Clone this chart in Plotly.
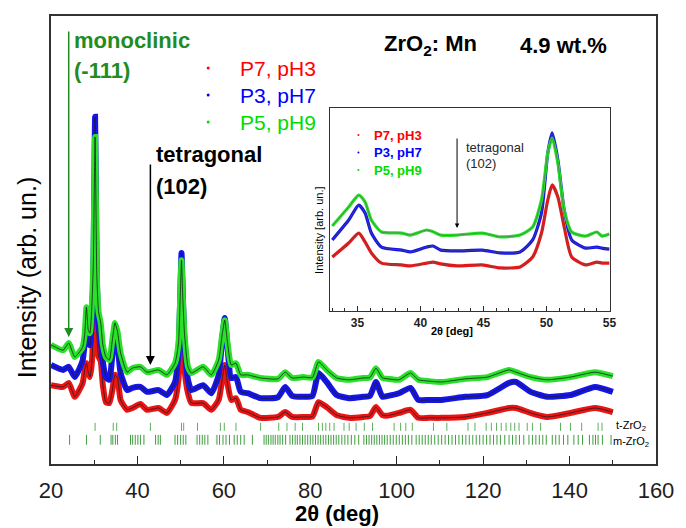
import plotly.graph_objects as go

# ---------------- data ----------------
two_theta = [20.0, 22.8, 24.1, 25.5, 27.3, 27.8, 28.2, 28.6, 29.0, 29.4, 29.8, 30.0, 30.2, 30.4, 30.6,
             31.0, 31.5, 32.0, 32.7, 33.5, 34.2, 34.8, 35.4, 36.1, 37.6, 38.8, 40.7, 42.2, 44.9, 46.8,
             48.7, 49.5, 49.9, 50.2, 50.5, 50.9, 51.7, 52.5, 55.2, 57.1, 58.8, 59.6, 60.2, 60.9, 61.7,
             62.8, 63.9, 65.5, 68.5, 72.5, 74.2, 75.8, 78.4, 80.5, 81.9, 83.8, 86.1, 89.0, 92.2, 93.8,
             95.2, 96.7, 98.0, 100.5, 103.2, 105.0, 107.5, 110.4, 115.8, 121.0, 126.0, 127.6, 131.0,
             134.8, 140.2, 145.9, 150.0]

p7_ph3 = [17.6, 17.2, 18.1, 15.0, 18.0, 21.0, 22.5, 20.5, 19.4, 22.0, 30.0, 40.0, 47.8, 38.0, 29.0,
          24.0, 23.0, 17.6, 13.8, 13.6, 16.5, 19.9, 19.2, 14.3, 12.1, 12.5, 13.4, 12.1, 12.5, 11.4,
          14.3, 19.0, 27.0, 33.7, 28.0, 21.0, 15.8, 13.6, 13.6, 12.1, 14.3, 18.8, 22.1, 17.6, 14.3,
          14.7, 12.1, 11.6, 10.3, 10.5, 11.6, 10.5, 10.5, 10.6, 13.8, 12.7, 10.9, 10.3, 10.5, 10.7,
          12.7, 10.9, 10.8, 11.4, 12.1, 10.3, 10.3, 10.3, 10.5, 11.4, 12.5, 12.5, 11.4,
          10.5, 11.4, 12.5, 11.6]

p3_ph7 = [22.1, 21.0, 21.7, 19.4, 23.0, 27.0, 29.2, 27.0, 26.5, 31.0, 42.0, 60.0, 77.5, 60.0, 42.0,
          31.0, 28.0, 22.8, 19.4, 18.8, 24.3, 29.2, 26.6, 20.3, 16.5, 17.0, 17.2, 16.1, 16.5, 15.4,
          18.3, 25.0, 37.0, 47.1, 38.0, 27.0, 18.8, 16.5, 17.6, 15.8, 19.9, 27.7, 32.6, 25.4, 19.2,
          19.4, 16.1, 15.8, 14.7, 14.9, 17.2, 15.2, 15.0, 15.2, 20.3, 18.3, 15.4, 14.7, 15.0, 15.2,
          18.3, 15.0, 15.2, 15.8, 17.0, 14.3, 14.3, 14.3, 15.0, 15.4, 18.1, 18.3, 16.1,
          15.0, 15.4, 17.2, 16.1]

p5_ph9 = [26.6, 25.4, 27.0, 23.9, 26.0, 29.0, 35.0, 30.0, 29.2, 34.0, 45.0, 60.0, 73.0, 58.0, 42.0,
          34.0, 31.5, 26.6, 23.9, 23.2, 27.7, 31.5, 29.5, 24.8, 20.5, 21.4, 21.7, 20.5, 21.0, 19.9,
          22.5, 27.0, 37.0, 45.5, 37.0, 29.0, 21.7, 20.3, 21.7, 19.9, 23.2, 28.8, 32.1, 26.6, 22.1,
          22.5, 19.9, 19.9, 19.2, 19.0, 20.5, 19.2, 19.4, 19.3, 22.8, 21.0, 19.2, 18.8, 19.2, 19.3,
          21.4, 19.2, 19.0, 18.8, 20.3, 18.8, 18.5, 18.3, 19.0, 19.4, 21.0, 20.5, 19.4,
          18.8, 19.4, 20.5, 19.6]

# inset (zoom 33-55 deg)
inset_theta = [33.0, 34.3, 35.1, 35.6, 36.1, 36.9, 38.5, 39.2, 40.5, 41.0, 41.6, 42.9, 44.9, 46.3,
               47.9, 48.9, 49.6, 50.1, 50.45, 50.9, 51.4, 52.0, 53.1, 54.0, 54.4, 55.0]
inset_p7 = [26.6, 33.5, 38.4, 34.0, 28.6, 23.6, 22.7, 22.2, 23.6, 24.1, 23.2, 22.2, 22.7, 21.2,
            21.7, 26.6, 38.4, 54.7, 62.1, 56.2, 41.4, 26.6, 22.7, 24.1, 23.6, 23.6]
inset_p3 = [35.0, 44.8, 52.2, 48.3, 38.4, 31.5, 30.0, 29.1, 31.5, 32.0, 30.0, 29.6, 30.0, 28.6,
            29.1, 35.0, 48.3, 77.8, 87.7, 74.4, 49.8, 35.0, 31.0, 31.5, 31.0, 30.5]
inset_p5 = [41.9, 51.2, 57.1, 53.7, 44.8, 38.9, 38.4, 37.4, 39.9, 39.0, 37.4, 37.4, 38.4, 36.5,
            37.4, 41.4, 54.7, 77.8, 85.2, 72.9, 49.8, 38.9, 36.9, 38.9, 36.9, 37.9]

# reference reflections (stick patterns)
t_zro2 = [30.2, 34.4, 35.2, 43.0, 50.2, 50.7, 53.9, 59.2, 60.1, 62.8, 68.5, 72.7, 74.6, 76.5, 78.2,
          81.9, 82.8, 83.6, 84.5, 85.5, 87.8, 89.0, 90.6, 92.5, 94.4, 99.4, 100.9, 102.1, 103.6,
          108.5, 111.6, 116.5, 118.1, 120.7, 121.9, 123.1, 124.2, 125.3, 126.4, 127.3, 128.3,
          130.2, 131.4, 133.3, 137.9, 140.2, 142.8, 146.6, 147.5]
m_zro2 = [24.3, 28.2, 31.4, 33.9, 34.3, 34.9, 35.4, 38.4, 38.9, 39.5, 40.1, 40.7, 41.5, 44.2, 44.8,
          45.3, 48.7, 49.3, 50.0, 50.6, 51.2, 53.8, 54.4, 55.0, 55.6, 56.3, 58.4, 59.0, 59.8, 60.5,
          61.3, 62.4, 63.1, 63.9, 64.7, 66.6, 69.3, 69.8, 70.3, 70.9, 71.4, 71.9, 72.5, 73.0, 73.6,
          74.3, 75.3, 75.9, 76.5, 77.0, 77.6, 78.2, 78.8, 79.4, 80.0, 80.6, 81.2, 81.8, 82.4, 83.0,
          83.6, 84.2, 84.8, 85.4, 86.0, 86.6, 87.3, 88.0, 88.7, 89.5, 90.3, 91.2, 92.4, 93.0, 93.6,
          94.2, 94.8, 95.4, 96.0, 96.6, 97.2, 97.8, 98.5, 99.2, 99.9, 100.6, 101.3, 102.0, 102.7,
          103.5, 104.5, 105.2, 105.9, 106.6, 107.3, 108.0, 108.8, 109.6, 110.4, 111.2, 112.0, 112.8,
          113.6, 114.4, 115.2, 116.0, 116.8, 117.6, 118.4, 119.2, 120.0, 120.8, 121.6, 122.4, 123.2,
          124.0, 125.0, 126.0, 126.8, 127.6, 128.4, 129.4, 130.6, 131.4, 132.2, 133.0, 133.8, 134.6,
          136.0, 136.8, 137.6, 138.6, 139.6, 141.0, 142.0, 143.0, 144.6, 145.4, 146.0, 146.6, 147.6,
          149.6]

series_names = ["P7, pH3", "P3, pH7", "P5, pH9"]
x_ticks = [20, 40, 60, 80, 100, 120, 140, 160]

# ---------------- styling / layout ----------------
W, H = 686, 528
L, R, T, B = 51, 663, 16, 464
FONT = "Liberation Sans, Arial, sans-serif"
col_line = ["rgb(235,20,20)", "rgb(20,20,235)", "rgb(40,225,40)"]
col_text = ["rgb(255,0,0)", "rgb(0,0,255)", "rgb(0,220,0)"]
dark_green = "rgb(34,139,34)"


def px(x):
    return (x - L) / (R - L)


def py(y):
    return (B - y) / (B - T)


fig = go.Figure()

main = [p7_ph3, p3_ph7, p5_ph9]
for vals, c in zip(main, col_line):
    fig.add_trace(go.Scatter(x=two_theta, y=vals, mode="lines", line=dict(color=c, width=6, shape="spline", smoothing=0.5),
                             showlegend=False, hoverinfo="skip"))
    fig.add_trace(go.Scatter(x=two_theta, y=vals, mode="lines", line=dict(color="rgb(30,30,30)", width=0.8, shape="spline", smoothing=0.5),
                             showlegend=False, hoverinfo="skip"))

# stick patterns
def sticks(pos, y0, y1):
    xs, ys = [], []
    for p in pos:
        xs += [p, p, None]
        ys += [y0, y1, None]
    return xs, ys

tx, ty = sticks(t_zro2, 7.4, 9.2)
mx, my = sticks(m_zro2, 4.3, 6.5)
fig.add_trace(go.Scatter(x=tx, y=ty, mode="lines", line=dict(color="rgba(40,150,40,0.75)", width=1),
                         showlegend=False, hoverinfo="skip"))
fig.add_trace(go.Scatter(x=mx, y=my, mode="lines", line=dict(color="rgba(30,140,30,0.85)", width=1),
                         showlegend=False, hoverinfo="skip"))

# inset
inset = [inset_p7, inset_p3, inset_p5]
for vals, c in zip(inset, col_line):
    fig.add_trace(go.Scatter(x=inset_theta, y=vals, mode="lines", xaxis="x2", yaxis="y2",
                             line=dict(color=c, width=3.2, shape="spline", smoothing=0.6),
                             showlegend=False, hoverinfo="skip"))
    fig.add_trace(go.Scatter(x=inset_theta, y=vals, mode="lines", xaxis="x2", yaxis="y2",
                             line=dict(color="rgba(90,90,90,0.8)", width=0.7, shape="spline", smoothing=0.6),
                             showlegend=False, hoverinfo="skip"))

ann = []
shapes = []

# main legend
for i, (name, c) in enumerate(zip(series_names, col_text)):
    yy = 68 + 27 * i
    shapes.append(dict(type="circle", xref="paper", yref="paper", x0=px(208.5), x1=px(211.5),
                       y0=py(yy + 1.5), y1=py(yy - 1.5), fillcolor=c, line=dict(width=0)))
    ann.append(dict(text=name, xref="paper", yref="paper", x=px(240), y=py(yy), xanchor="left",
                    yanchor="middle", showarrow=False, font=dict(family=FONT, size=21, color=c)))

# inset legend
for i, (name, c) in enumerate(zip(series_names, col_text)):
    yy = 135 + 17.5 * i
    shapes.append(dict(type="circle", xref="paper", yref="paper", x0=px(361), x1=px(363),
                       y0=py(yy + 1), y1=py(yy - 1), fillcolor=c, line=dict(width=0)))
    ann.append(dict(text="<b>" + name + "</b>", xref="paper", yref="paper", x=px(376), y=py(yy), xanchor="left",
                    yanchor="middle", showarrow=False, font=dict(family=FONT, size=13, color=c)))

# title-like labels
ann.append(dict(text="<b>ZrO<sub>2</sub>: Mn</b>", xref="paper", yref="paper", x=px(386), y=py(45),
                xanchor="left", yanchor="middle", showarrow=False, font=dict(family=FONT, size=22, color="black")))
ann.append(dict(text="<b>4.9 wt.%</b>", xref="paper", yref="paper", x=px(523), y=py(45),
                xanchor="left", yanchor="middle", showarrow=False, font=dict(family=FONT, size=22, color="black")))

# monoclinic
ann.append(dict(text="<b>monoclinic</b>", xref="paper", yref="paper", x=px(72), y=py(40),
                xanchor="left", yanchor="middle", showarrow=False, font=dict(family=FONT, size=22, color=dark_green)))
ann.append(dict(text="<b>(-111)</b>", xref="paper", yref="paper", x=px(72), y=py(70),
                xanchor="left", yanchor="middle", showarrow=False, font=dict(family=FONT, size=22, color=dark_green)))
ann.append(dict(text="", x=24.1, y=(B - 337) / 4.48, xref="x", yref="y", ax=0, ay=-307, showarrow=True,
                arrowhead=2, arrowsize=1.2, arrowwidth=1.5, arrowcolor=dark_green))

# tetragonal
ann.append(dict(text="<b>tetragonal</b>", xref="paper", yref="paper", x=px(155), y=py(155),
                xanchor="left", yanchor="middle", showarrow=False, font=dict(family=FONT, size=22, color="black")))
ann.append(dict(text="<b>(102)</b>", xref="paper", yref="paper", x=px(155), y=py(186),
                xanchor="left", yanchor="middle", showarrow=False, font=dict(family=FONT, size=22, color="black")))
ann.append(dict(text="", x=43.0, y=(B - 365) / 4.48, xref="x", yref="y", ax=0, ay=-202, showarrow=True,
                arrowhead=2, arrowsize=1.2, arrowwidth=1.5, arrowcolor="black"))

# inset tetragonal
ann.append(dict(text="tetragonal", xref="paper", yref="paper", x=px(469), y=py(147),
                xanchor="left", yanchor="middle", showarrow=False, font=dict(family=FONT, size=13, color="rgb(40,40,40)")))
ann.append(dict(text="(102)", xref="paper", yref="paper", x=px(469), y=py(163),
                xanchor="left", yanchor="middle", showarrow=False, font=dict(family=FONT, size=13, color="rgb(40,40,40)")))
ann.append(dict(text="", x=42.9, y=(311 - 228) / 2.03, xref="x2", yref="y2", ax=0, ay=-91, showarrow=True,
                arrowhead=2, arrowsize=0.9, arrowwidth=1, arrowcolor="black"))

# stick labels
ann.append(dict(text="t-ZrO<sub>2</sub>", xref="paper", yref="paper", x=px(621), y=py(426),
                xanchor="left", yanchor="middle", showarrow=False, font=dict(family=FONT, size=11, color="black")))
ann.append(dict(text="m-ZrO<sub>2</sub>", xref="paper", yref="paper", x=px(617), y=py(442),
                xanchor="left", yanchor="middle", showarrow=False, font=dict(family=FONT, size=11, color="black")))

# axis titles
ann.append(dict(text="Intensity (arb. un.)", xref="paper", yref="paper", x=px(27), y=py(278), textangle=-90,
                xanchor="center", yanchor="middle", showarrow=False, font=dict(family=FONT, size=25, color="black")))
ann.append(dict(text="<b>2θ (deg)</b>", xref="paper", yref="paper", x=px(340), y=py(513),
                xanchor="center", yanchor="middle", showarrow=False, font=dict(family=FONT, size=22, color="black")))
ann.append(dict(text="Intensity [arb. un.]", xref="paper", yref="paper", x=px(322), y=py(230), textangle=-90,
                xanchor="center", yanchor="middle", showarrow=False, font=dict(family=FONT, size=11, color="black")))
ann.append(dict(text="<b>2θ [deg]</b>", xref="paper", yref="paper", x=px(457), y=py(331),
                xanchor="center", yanchor="middle", showarrow=False, font=dict(family=FONT, size=11, color="black")))

fig.update_layout(
    width=W, height=H,
    margin=dict(l=L, r=W - R, t=T, b=H - B, pad=0),
    paper_bgcolor="white", plot_bgcolor="white",
    showlegend=False,
    font=dict(family=FONT),
    xaxis=dict(range=[20, 160], domain=[0, 1], tickvals=x_ticks, ticks="inside", ticklen=8, tickwidth=1.2,
               tickcolor="rgb(40,40,40)", showline=True, mirror=True, linecolor="rgb(50,50,50)", linewidth=1.5,
               showgrid=False, zeroline=False, tickfont=dict(family=FONT, size=22, color="rgb(30,30,30)"),
               ticklabelstandoff=6,
               minor=dict(dtick=10, tick0=0, ticks="inside", ticklen=4, tickcolor="rgb(40,40,40)", tickwidth=1)),
    yaxis=dict(range=[0, 100], domain=[0, 1], showticklabels=False, ticks="", showline=True, mirror=True,
               linecolor="rgb(50,50,50)", linewidth=1.5, showgrid=False, zeroline=False),
    xaxis2=dict(range=[32.8, 55], domain=[px(333), px(616)], anchor="y2", tickvals=[35, 40, 45, 50, 55],
                ticks="inside", ticklen=5, tickcolor="rgb(40,40,40)", showline=True, mirror=True,
                linecolor="rgb(50,50,50)", linewidth=1.2, showgrid=False, zeroline=False,
                tickfont=dict(family=FONT, size=12, color="rgb(30,30,30)", weight="bold"),
                minor=dict(dtick=1, tick0=0, ticks="inside", ticklen=3, tickcolor="rgb(40,40,40)")),
    yaxis2=dict(range=[0, 100], domain=[py(311), py(108)], anchor="x2", showticklabels=False, ticks="",
                showline=True, mirror=True, linecolor="rgb(50,50,50)", linewidth=1.2, showgrid=False,
                zeroline=False),
    annotations=ann,
    shapes=shapes,
)

fig.write_html("out.html")
